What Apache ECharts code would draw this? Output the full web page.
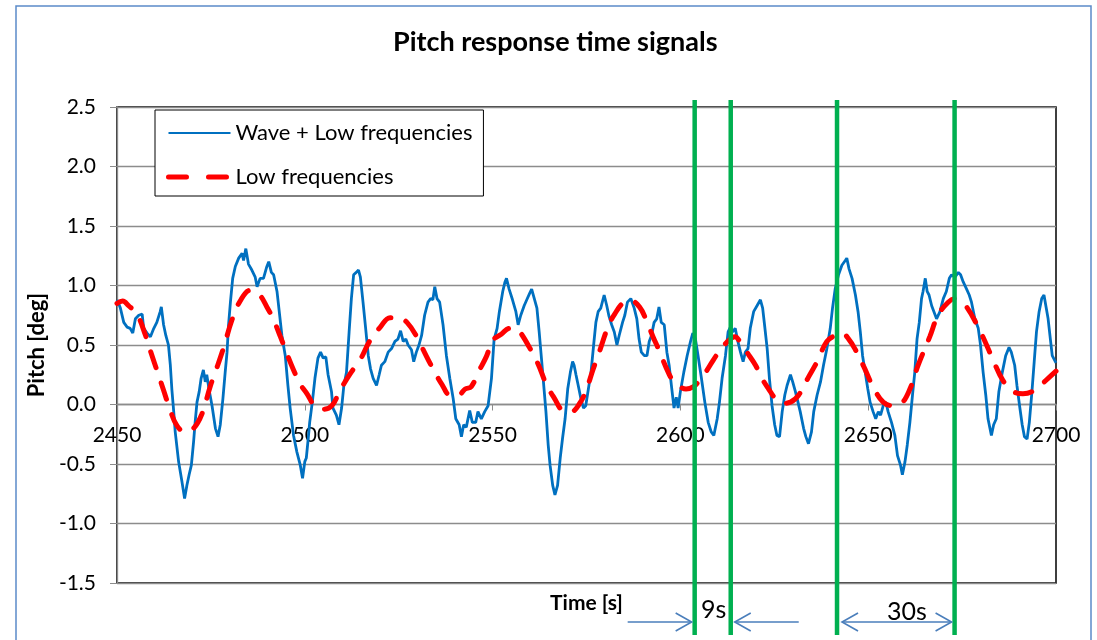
<!DOCTYPE html>
<html>
<head>
<meta charset="utf-8">
<script src="https://cdn.jsdelivr.net/npm/echarts@6/dist/echarts.min.js"></script>
<style>
html,body{margin:0;padding:0;background:#fff;}
#main{width:1097px;height:640px;}
</style>
</head>
<body>
<div id="main"></div>
<script>
// ---- data ----
const titleText = 'Pitch response time signals';
const xName = 'Time [s]';
const yName = 'Pitch [deg]';
const seriesNames = ['Wave + Low frequencies', 'Low frequencies'];
const xTicks = [2450, 2500, 2550, 2600, 2650, 2700];
const yTicks = [-1.5, -1.0, -0.5, 0.0, 0.5, 1.0, 1.5, 2.0, 2.5];

const waveT = [2450.0,2450.3,2450.9,2451.8,2452.7,2453.5,2454.2,2454.9,2455.8,2456.7,2457.1,2458.0,2458.9,2459.8,2460.6,2461.5,2461.8,2462.4,2463.0,2463.7,2464.2,2464.6,2465.1,2465.5,2466.4,2467.3,2468.0,2468.6,2469.2,2469.8,2470.4,2470.8,2471.3,2471.9,2472.4,2473.0,2473.5,2473.9,2474.6,2475.3,2476.2,2476.9,2477.5,2478.2,2478.8,2479.3,2479.7,2480.2,2480.8,2481.5,2482.4,2483.3,2483.7,2484.3,2485.0,2485.9,2486.8,2487.3,2488.1,2489.0,2489.9,2490.4,2491.1,2491.7,2492.6,2493.2,2493.9,2494.8,2495.5,2496.1,2497.0,2497.9,2498.8,2499.4,2500.0,
2500.4,2500.9,2501.3,2502.0,2502.7,2503.5,2504.2,2504.9,2505.6,2506.2,2507.1,2507.5,2508.4,2509.1,2509.8,2510.4,2511.1,2511.8,2512.4,2513.0,2513.7,2514.3,2514.8,2515.5,2516.2,2516.9,2517.5,2518.2,2519.1,2519.8,2520.4,2521.3,2522.2,2523.1,2524.0,2524.8,2525.5,2526.2,2526.9,2527.5,2528.4,2529.0,2529.7,2530.4,2531.1,2531.9,2532.8,2533.5,2534.1,2534.6,2535.2,2535.9,2536.8,2537.7,2538.6,2539.5,2540.2,2541.1,2541.7,2542.3,2543.0,2543.9,2544.6,2545.5,2546.1,2547.0,2547.9,2548.8,2549.7,2550.4,
2551.2,2551.8,2552.7,2553.3,2553.7,2554.4,2555.3,2556.2,2556.8,2557.5,2558.4,2559.1,2559.8,2560.4,2561.1,2561.8,2562.4,2563.0,2563.7,2564.2,2564.8,2565.3,2566.0,2566.6,2567.3,2568.0,2568.6,2569.3,2570.0,2570.7,2571.3,2571.7,2572.2,2572.8,2573.5,2574.2,2574.8,2575.5,2576.2,2576.9,2577.5,2578.1,2578.8,2579.7,2580.4,2581.0,2581.7,2582.4,2583.1,2583.7,2584.6,2585.2,2585.9,2586.8,2587.7,2588.4,2589.0,2589.6,2590.4,2591.1,2591.7,2592.3,2593.0,2593.7,2594.3,2594.9,2595.7,2596.4,2597.0,2597.6,2598.3,2598.9,2599.4,2600.0,
2600.9,2601.8,2602.7,2603.3,2604.0,2604.7,2605.6,2606.5,2607.4,2608.2,2608.9,2609.8,2610.4,2611.1,2612.0,2612.7,2613.3,2613.9,2614.6,2615.3,2616.0,2616.7,2617.3,2618.0,2618.6,2619.5,2620.4,2621.3,2621.9,2622.4,2623.1,2623.7,2624.4,2625.1,2625.7,2626.4,2627.1,2627.8,2628.4,2629.3,2629.9,2630.6,2631.3,2631.9,2632.8,2633.4,2634.1,2634.9,2635.5,2636.4,2637.3,2638.1,2639.0,2639.9,2640.5,2641.2,2642.1,2643.0,2643.9,2644.3,2644.9,2645.7,2646.6,2647.3,2647.9,2648.5,2649.2,2649.9,2650.5,
2651.3,2652.0,2652.7,2653.3,2654.0,2654.7,2655.3,2656.2,2657.1,2657.8,2658.6,2659.1,2659.8,2660.4,2661.1,2661.8,2662.4,2663.0,2663.6,2664.2,2664.6,2665.2,2665.7,2666.2,2666.9,2667.5,2668.2,2669.1,2670.0,2670.8,2671.6,2672.2,2673.1,2674.0,2674.6,2675.3,2676.2,2676.9,2677.5,2678.4,2679.3,2679.9,2680.6,2681.3,2681.9,2682.8,2683.4,2684.1,2684.8,2685.7,2686.6,2687.5,2688.1,2689.0,2689.6,2690.3,2691.0,2691.6,2692.3,2692.9,2693.6,2694.2,2694.8,2695.5,2696.2,2696.8,2697.4,2697.9,2698.5,2699.0,2700.0];
const waveV = [0.88,0.86,0.81,0.69,0.65,0.64,0.60,0.72,0.75,0.76,0.64,0.60,0.57,0.64,0.69,0.78,0.82,0.67,0.58,0.50,0.33,0.13,-0.06,-0.23,-0.48,-0.65,-0.79,-0.68,-0.59,-0.51,-0.31,-0.15,0.02,0.11,0.22,0.29,0.19,0.25,0.11,-0.01,-0.20,-0.27,-0.17,0.05,0.27,0.44,0.67,0.86,1.06,1.16,1.23,1.27,1.21,1.31,1.18,1.13,1.07,0.99,1.06,1.06,1.16,1.20,1.11,1.09,0.95,0.78,0.58,0.41,0.16,-0.03,-0.26,-0.40,-0.51,-0.62,-0.48,
-0.45,-0.29,-0.15,0.02,0.22,0.39,0.44,0.39,0.40,0.25,0.11,-0.03,-0.09,-0.17,-0.03,0.16,0.27,0.61,0.89,1.09,1.11,1.13,1.07,0.86,0.64,0.41,0.30,0.22,0.16,0.25,0.33,0.36,0.44,0.47,0.53,0.55,0.62,0.53,0.55,0.50,0.46,0.36,0.44,0.50,0.58,0.75,0.86,0.89,0.88,0.99,0.89,0.86,0.67,0.41,0.22,0.05,-0.12,-0.17,-0.27,-0.17,-0.19,-0.05,-0.15,-0.15,-0.06,-0.12,-0.06,-0.01,0.22,0.55,
0.64,0.78,0.95,1.03,1.06,0.97,0.88,0.78,0.67,0.75,0.83,0.88,0.93,0.97,0.89,0.81,0.61,0.39,0.13,-0.06,-0.34,-0.51,-0.68,-0.76,-0.68,-0.45,-0.29,-0.12,0.13,0.27,0.36,0.33,0.25,0.16,0.05,-0.03,-0.01,0.13,0.27,0.50,0.69,0.78,0.81,0.92,0.83,0.74,0.67,0.61,0.50,0.58,0.69,0.75,0.86,0.89,0.81,0.72,0.55,0.44,0.41,0.41,0.53,0.58,0.69,0.72,0.82,0.69,0.67,0.44,0.33,0.16,-0.03,0.06,-0.03,0.11,
0.27,0.41,0.53,0.60,0.55,0.41,0.22,0.02,-0.15,-0.23,-0.26,-0.12,0.02,0.22,0.41,0.61,0.65,0.61,0.64,0.53,0.44,0.36,0.44,0.47,0.64,0.78,0.83,0.88,0.81,0.67,0.47,0.22,-0.01,-0.17,-0.26,-0.27,-0.06,0.08,0.16,0.25,0.19,0.11,0.02,-0.06,-0.20,-0.27,-0.33,-0.23,-0.06,0.08,0.19,0.33,0.47,0.64,0.81,0.97,1.09,1.17,1.21,1.23,1.14,1.06,0.92,0.78,0.61,0.41,0.27,0.13,0.02,
-0.06,-0.12,-0.06,-0.09,-0.01,0.02,-0.06,-0.15,-0.26,-0.43,-0.51,-0.59,-0.48,-0.34,-0.15,0.08,0.27,0.55,0.69,0.89,0.95,1.06,0.95,0.92,0.83,0.78,0.72,0.78,0.89,0.95,1.06,1.09,1.07,1.11,1.09,1.03,0.97,0.92,0.86,0.72,0.64,0.50,0.27,0.08,-0.12,-0.26,-0.17,-0.12,0.11,0.27,0.41,0.48,0.44,0.33,0.16,-0.01,-0.17,-0.27,-0.29,-0.15,0.11,0.36,0.61,0.78,0.89,0.92,0.81,0.72,0.55,0.41,0.35];

const lowT = [2450.0,2451.5,2453.1,2455.3,2457.5,2458.9,2460.6,2462.4,2464.2,2466.0,2468.2,2470.4,2472.6,2474.8,2476.6,2478.4,2480.6,2482.8,2485.5,2487.7,2489.9,2491.7,2493.5,2495.2,2497.0,2498.8,2500.6,2502.8,2505.0,2507.2,2509.4,2512.1,2514.8,2517.4,2520.1,2522.7,2525.0,2527.2,2529.8,2532.0,2534.3,2536.5,2538.7,2540.9,2542.7,2544.3,2546.5,2548.3,2550.1,2552.3,2554.5,2556.3,2557.5,2559.8,2562.1,2564.3,2566.5,2568.7,2570.9,2573.2,2574.9,2576.7,2578.5,2580.7,2582.5,2585.1,2586.9,2589.1,2590.9,2592.7,2594.4,2596.2,2598.0,2599.8,2601.5,2603.5,2605.0,2606.7,2608.5,2610.2,2612.9,2614.5,2616.0,2617.7,2620.0,2621.7,2623.5,2625.3,2627.1,2629.3,2631.5,2634.1,2636.4,2639.0,2641.2,2643.0,2644.8,2646.6,2648.8,2651.3,2654.0,2656.7,2658.9,2661.1,2663.3,2666.4,2668.6,2671.3,2673.1,2674.5,2676.2,2678.8,2681.1,2683.3,2685.9,2688.6,2691.2,2694.3,2697.9,2700.0];
const lowV = [0.85,0.87,0.83,0.76,0.59,0.45,0.29,0.12,-0.05,-0.18,-0.23,-0.20,-0.08,0.15,0.31,0.48,0.71,0.87,0.96,0.93,0.82,0.71,0.57,0.43,0.29,0.17,0.09,-0.02,-0.04,-0.01,0.12,0.26,0.38,0.54,0.65,0.73,0.73,0.69,0.57,0.43,0.29,0.17,0.08,0.08,0.13,0.15,0.29,0.40,0.54,0.59,0.64,0.64,0.60,0.48,0.34,0.17,0.05,-0.05,-0.06,0.01,0.12,0.29,0.45,0.65,0.76,0.86,0.87,0.82,0.71,0.57,0.45,0.31,0.20,0.15,0.13,0.15,0.20,0.27,0.36,0.44,0.54,0.57,0.52,0.44,0.33,0.22,0.13,0.05,0.01,0.02,0.08,0.23,0.36,0.53,0.58,0.60,0.55,0.46,0.32,0.15,0.02,-0.01,0.01,0.13,0.33,0.57,0.75,0.86,0.89,0.87,0.82,0.68,0.53,0.37,0.20,0.11,0.09,0.12,0.22,0.28];

// annotation markers (time positions of the green lines) and their labels
const markerT = [2603.8, 2613.4, 2641.7, 2673.0];
const spanLabels = ['9s', '30s'];

// ---- chart ----
const FONT = 'Lato, "Open Sans", sans-serif';
const waveData = waveT.map((t, i) => [t, waveV[i]]);
const lowData = lowT.map((t, i) => [t, lowV[i]]);
const gridColor = '#8C8C8C';
const NONE = 'rgba(0,0,0,0)';

const chart = echarts.init(document.getElementById('main'), null, {renderer: 'canvas'});
const option = {
  animation: false,
  backgroundColor: '#ffffff',
  textStyle: {fontFamily: FONT},
  title: {
    text: titleText,
    left: 388,
    top: 24,
    padding: [5, 5, 5, 5],
    textStyle: {fontFamily: FONT, fontSize: 27, fontWeight: 'bold', color: '#000'}
  },
  grid: {left: 117, right: 41, top: 107, bottom: 57, show: true, borderColor: '#000', borderWidth: 1.5, backgroundColor: 'transparent'},
  legend: {
    left: 155, top: 110, orient: 'vertical',
    backgroundColor: '#fff', borderColor: '#000', borderWidth: 1,
    padding: [12, 11, 8, 11],
    itemGap: 22, itemWidth: 62, itemHeight: 14,
    itemStyle: {color: NONE, borderColor: NONE, borderWidth: 0, opacity: 0},
    textStyle: {fontFamily: FONT, fontSize: 22, color: '#000'},
    data: [
      {name: seriesNames[0]},
      {name: seriesNames[1], lineStyle: {type: [18, 22], width: 5, cap: 'round', color: '#FF0000'}}
    ]
  },
  xAxis: {
    type: 'value',
    min: xTicks[0], max: xTicks[xTicks.length - 1], interval: xTicks[1] - xTicks[0],
    axisLine: {onZero: false, lineStyle: {color: gridColor, width: 1.3}},
    axisTick: {show: true, inside: false, length: 6, lineStyle: {color: gridColor}},
    axisLabel: {show: true, margin: 20, fontFamily: FONT, fontSize: 21, color: '#000', showMinLabel: true, showMaxLabel: true, formatter: v => String(v)},
    splitLine: {show: false}
  },
  yAxis: {
    type: 'value',
    min: yTicks[0], max: yTicks[yTicks.length - 1], interval: yTicks[1] - yTicks[0],
    axisLine: {show: true, onZero: false, lineStyle: {color: gridColor, width: 1.3}},
    axisTick: {show: true, length: 7, lineStyle: {color: gridColor}},
    axisLabel: {margin: 21, fontFamily: FONT, fontSize: 21, color: '#000', formatter: v => v.toFixed(1)},
    splitLine: {show: true, lineStyle: {color: gridColor, width: 1.3}},
    name: yName, nameLocation: 'middle', nameRotate: 90, nameGap: 69,
    nameTextStyle: {fontFamily: FONT, fontSize: 22, fontWeight: 'bold', color: '#000'}
  },
  series: [{
    name: seriesNames[0], type: 'line', data: waveData, symbol: 'none', showSymbol: false,
    lineStyle: {color: '#0070C0', width: 2.8}, itemStyle: {color: '#0070C0'}, z: 2
  }, {
    name: seriesNames[1], type: 'line', data: lowData, symbol: 'none', showSymbol: false, smooth: 0.4,
    lineStyle: {color: '#FF0000', width: 5, type: [17, 16], cap: 'round'}, itemStyle: {color: '#FF0000'}, z: 3
  }]
};
chart.setOption(option);

// ---- scales ----
const px = t => chart.convertToPixel({xAxisIndex: 0}, t);
const py = v => chart.convertToPixel({yAxisIndex: 0}, v);
const yTopPx = py(yTicks[yTicks.length - 1]);
const yBotPx = py(yTicks[0]);

// put the time axis across the zero line (as in the reference), using the y scale
chart.setOption({xAxis: {offset: -(yBotPx - py(0))}});

// ---- annotations positioned through the chart's own scales ----
const green = '#00B050';
const arrowColor = '#4A7EBB';
const arrowY = yBotPx + 39;
const gfx = [];
gfx.push({type: 'rect', shape: {x: 16, y: 6, width: 1075, height: 700}, style: {fill: 'none', stroke: '#5B8BC9', lineWidth: 1.5}, z: 1, silent: true});
gfx.push({type: 'text', x: (px(xTicks[0]) + px(xTicks[xTicks.length - 1])) / 2, y: yBotPx + 20,
  style: {text: xName, fontFamily: FONT, fontSize: 21, fontWeight: 'bold', fill: '#000', align: 'center', verticalAlign: 'middle'}, z: 50});
markerT.forEach(t => {
  const x = px(t);
  gfx.push({type: 'line', shape: {x1: x, y1: yTopPx - 7, x2: x, y2: yBotPx + 52}, style: {stroke: green, lineWidth: 4.5}, z: 100});
});
function arrowHead(tipX, dir) {
  return {type: 'polyline', shape: {points: [[tipX - dir * 16, arrowY - 9], [tipX, arrowY], [tipX - dir * 16, arrowY + 9]]}, style: {stroke: arrowColor, lineWidth: 1.6, fill: 'none'}, z: 100};
}
const m0 = px(markerT[0]), m1 = px(markerT[1]), m2 = px(markerT[2]), m3 = px(markerT[3]);
gfx.push({type: 'line', shape: {x1: m0 - 67, y1: arrowY, x2: m0 - 3, y2: arrowY}, style: {stroke: arrowColor, lineWidth: 1.6}, z: 100});
gfx.push(arrowHead(m0 - 3, 1));
gfx.push({type: 'line', shape: {x1: m1 + 4, y1: arrowY, x2: m1 + 68, y2: arrowY}, style: {stroke: arrowColor, lineWidth: 1.6}, z: 100});
gfx.push(arrowHead(m1 + 4, -1));
gfx.push({type: 'line', shape: {x1: m2 + 5, y1: arrowY, x2: m3 - 3, y2: arrowY}, style: {stroke: arrowColor, lineWidth: 1.6}, z: 100});
gfx.push(arrowHead(m2 + 5, -1));
gfx.push(arrowHead(m3 - 3, 1));
gfx.push({type: 'text', x: (m0 + m1) / 2 + 1, y: yBotPx + 27, style: {text: spanLabels[0], fontFamily: FONT, fontSize: 25, fill: '#000', align: 'center', verticalAlign: 'middle'}, z: 101});
gfx.push({type: 'text', x: m2 + 70, y: yBotPx + 29, style: {text: spanLabels[1], fontFamily: FONT, fontSize: 25, fill: '#000', align: 'center', verticalAlign: 'middle'}, z: 101});
chart.setOption({graphic: gfx});
</script>
</body>
</html>
